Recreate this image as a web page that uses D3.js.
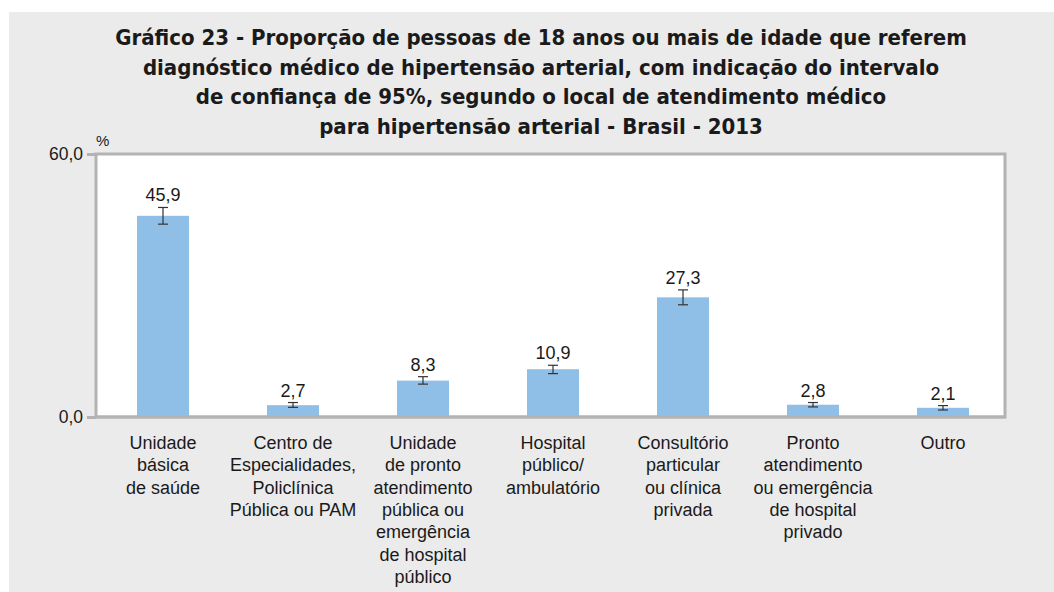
<!DOCTYPE html>
<html>
<head>
<meta charset="utf-8">
<script src="https://cdn.jsdelivr.net/npm/d3@7"></script>
<style>
  body { margin: 0; background: #fff; }
  svg { display: block; }
</style>
</head>
<body>
<svg id="chart"></svg>
<script>
// data
const categories = [
    ["Unidade", "básica", "de saúde"],
    ["Centro de", "Especialidades,", "Policlínica", "Pública ou PAM"],
    ["Unidade", "de pronto", "atendimento", "pública ou", "emergência", "de hospital", "público"],
    ["Hospital", "público/", "ambulatório"],
    ["Consultório", "particular", "ou clínica", "privada"],
    ["Pronto", "atendimento", "ou emergência", "de hospital", "privado"],
    ["Outro"]
];
const values = [45.9, 2.7, 8.3, 10.9, 27.3, 2.8, 2.1];
const ciLow = [44.0, 2.2, 7.5, 9.9, 25.6, 2.3, 1.6];
const ciHigh = [47.8, 3.3, 9.2, 11.8, 29.0, 3.3, 2.6];
const yTicks = [0, 60];
const titleLines = [
    "Gráfico 23 - Proporção de pessoas de 18 anos ou mais de idade que referem",
    "diagnóstico médico de hipertensão arterial, com indicação do intervalo",
    "de confiança de 95%, segundo o local de atendimento médico",
    "para hipertensão arterial - Brasil - 2013"
];

const width = 1054, height = 592;
const plot = { left: 96, right: 1005, top: 154, bottom: 417 };
const labelFont = "Arial, 'Liberation Sans', sans-serif";

const svg = d3.select("#chart").attr("width", width).attr("height", height);

// gray panel
svg.append("rect")
    .attr("x", 9).attr("y", 12)
    .attr("width", width - 9).attr("height", height - 12)
    .attr("fill", "#ebebeb");

// title
svg.append("g").selectAll("text")
    .data(titleLines)
    .join("text")
    .attr("x", 541)
    .attr("y", (d, i) => 45 + i * 29.5)
    .attr("text-anchor", "middle")
    .attr("font-family", "'Liberation Sans Narrow', 'DejaVu Sans Condensed', Arial, sans-serif")
    .attr("font-weight", "bold")
    .attr("font-size", 22)
    .attr("fill", "#1a1a1a")
    .text(d => d);

const x = d3.scaleBand()
    .domain(d3.range(values.length))
    .range([plot.left + 2, plot.right + 3])
    .paddingInner(0.6)
    .paddingOuter(0.3);

const y = d3.scaleLinear()
    .domain([0, 60])
    .range([plot.bottom, plot.top]);

// plot area
svg.append("rect")
    .attr("x", plot.left).attr("y", plot.top)
    .attr("width", plot.right - plot.left).attr("height", plot.bottom - plot.top)
    .attr("fill", "#fff")
    .attr("stroke", "#b3b3b3")
    .attr("stroke-width", 3);

// y axis
const yAxis = svg.append("g")
    .attr("transform", `translate(${plot.left},0)`)
    .call(d3.axisLeft(y).tickValues(yTicks).tickSize(9).tickPadding(4)
        .tickFormat(d => d3.format(".1f")(d).replace(".", ",")));
yAxis.select(".domain").remove();
yAxis.selectAll("line").attr("stroke", "#b3b3b3").attr("stroke-width", 3);
yAxis.selectAll("text")
    .attr("font-family", labelFont)
    .attr("font-size", 17.5)
    .attr("fill", "#1a1a1a");

svg.append("text")
    .attr("x", 96).attr("y", 146)
    .attr("font-family", labelFont)
    .attr("font-size", 15)
    .attr("fill", "#1a1a1a")
    .text("%");

// bars
svg.append("g").selectAll("rect")
    .data(values)
    .join("rect")
    .attr("x", (d, i) => x(i))
    .attr("y", d => y(d))
    .attr("width", x.bandwidth())
    .attr("height", d => y(0) - y(d))
    .attr("fill", "#8fbfe6");

// redraw baseline over bars
svg.append("line")
    .attr("x1", plot.left).attr("x2", plot.right)
    .attr("y1", plot.bottom).attr("y2", plot.bottom)
    .attr("stroke", "#b3b3b3").attr("stroke-width", 3);

// error bars
const err = svg.append("g")
    .attr("stroke", "#333")
    .attr("stroke-width", 1.2);
values.forEach((v, i) => {
    const cx = x(i) + x.bandwidth() / 2;
    err.append("line").attr("x1", cx).attr("x2", cx).attr("y1", y(ciLow[i])).attr("y2", y(ciHigh[i]));
    err.append("line").attr("x1", cx - 5).attr("x2", cx + 5).attr("y1", y(ciLow[i])).attr("y2", y(ciLow[i]));
    err.append("line").attr("x1", cx - 5).attr("x2", cx + 5).attr("y1", y(ciHigh[i])).attr("y2", y(ciHigh[i]));
});

// value labels
svg.append("g").selectAll("text")
    .data(values)
    .join("text")
    .attr("x", (d, i) => x(i) + x.bandwidth() / 2)
    .attr("y", (d, i) => y(ciHigh[i]) - 6)
    .attr("text-anchor", "middle")
    .attr("font-family", labelFont)
    .attr("font-size", 18)
    .attr("fill", "#1a1a1a")
    .text(d => d3.format(".1f")(d).replace(".", ","));

// category labels
const cat = svg.append("g").selectAll("text")
    .data(categories)
    .join("text")
    .attr("text-anchor", "middle")
    .attr("font-family", labelFont)
    .attr("font-size", 18)
    .attr("fill", "#1a1a1a");
cat.selectAll("tspan")
    .data((d, i) => d.map(line => ({ line, i })))
    .join("tspan")
    .attr("x", d => x(d.i) + x.bandwidth() / 2)
    .attr("y", (d, j) => 449 + j * 22.3)
    .text(d => d.line);
</script>
</body>
</html>
